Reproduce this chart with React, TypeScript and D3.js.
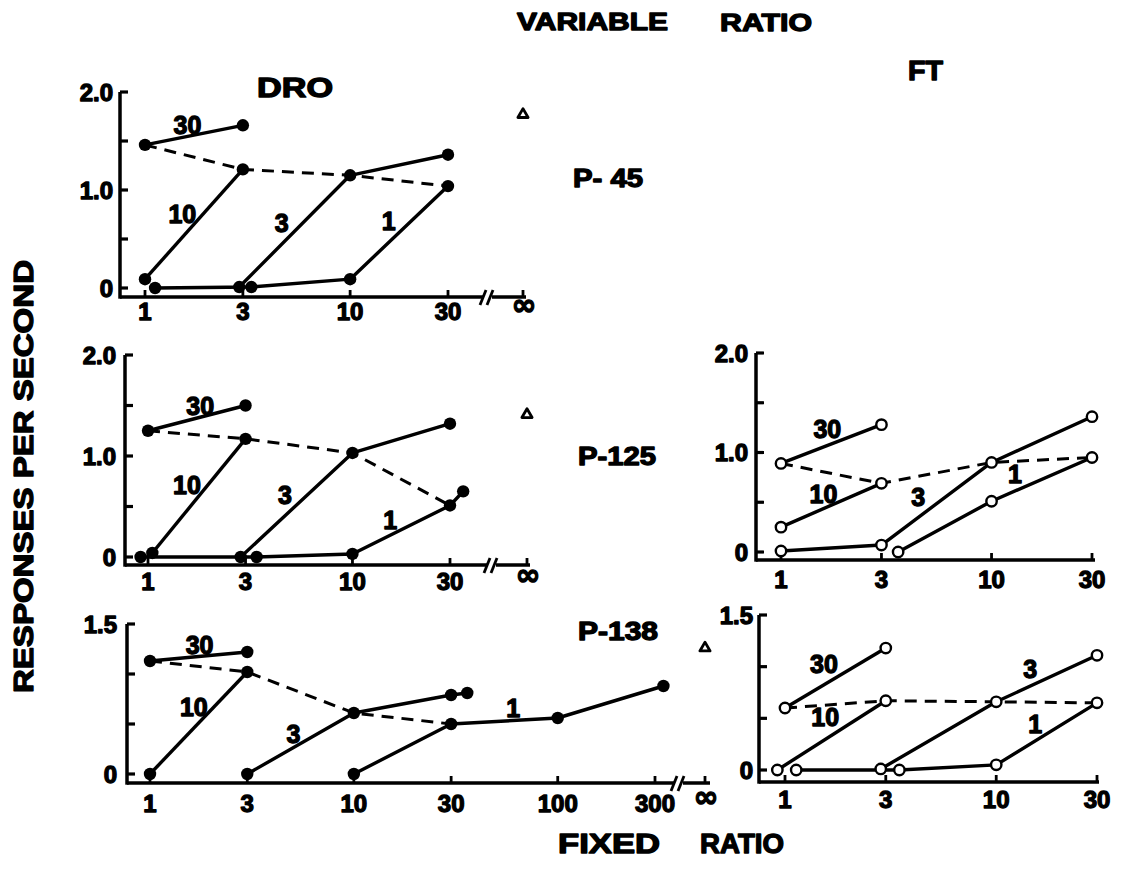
import * as d3 from 'd3';

type Pt = [number, number];
type Label = [string, number, number];

// fixed-ratio value, responses per second. x values slightly off 1 / 3 are points drawn beside the tick
// P-45, DRO
const p45Vr30: Pt[] = [[1, 1.46], [3, 1.66]];
const p45Vr10: Pt[] = [[1, 0.09], [3, 1.21]];
const p45Vr3: Pt[] = [[2.88, 0.01], [10, 1.15], [30, 1.36]];
const p45Vr1: Pt[] = [[1.12, 0.0], [3.3, 0.01], [10, 0.09], [30, 1.04]];
const p45Dashed: Pt[] = [[1, 1.46], [3, 1.21], [10, 1.15], [30, 1.04]];
const p45Extinction = 1.77;
const p45Labels: Label[] = [['30', 1.61, 1.66], ['10', 1.52, 0.76], ['3', 4.64, 0.66], ['1', 15.4, 0.68]];

// P-125, DRO
const p125Vr30: Pt[] = [[1, 1.25], [3, 1.5]];
const p125Vr10: Pt[] = [[1.05, 0.04], [3, 1.17]];
const p125Vr3: Pt[] = [[2.84, 0.0], [10, 1.03], [30, 1.32]];
const p125Vr1: Pt[] = [[0.92, 0.0], [3.4, 0.0], [10, 0.03], [30, 0.51], [34.8, 0.65]];
const p125Dashed: Pt[] = [[1, 1.25], [3, 1.17], [10, 1.03], [30, 0.51]];
const p125Extinction = 1.41;
const p125Labels: Label[] = [['30', 1.8, 1.5], ['10', 1.55, 0.71], ['3', 4.67, 0.61], ['1', 15.3, 0.37]];

// P-138, DRO
const p138Vr30: Pt[] = [[1, 1.13], [3, 1.22]];
const p138Vr10: Pt[] = [[1, 0.0], [3, 1.02]];
const p138Vr3: Pt[] = [[3, 0.0], [10, 0.61], [30, 0.79], [36, 0.81]];
const p138Vr1: Pt[] = [[10, 0.0], [30, 0.5], [100, 0.56], [330, 0.88]];
const p138Dashed: Pt[] = [[1, 1.13], [3, 1.02], [10, 0.61], [30, 0.5]];
const p138Extinction = 1.26;
const p138Labels: Label[] = [['30', 1.75, 1.29], ['10', 1.64, 0.67], ['3', 5.05, 0.4], ['1', 60.5, 0.66]];

// P-125, FT (open points)
const ft125Vr30: Pt[] = [[1, 0.89], [3, 1.28]];
const ft125Vr10: Pt[] = [[1, 0.25], [3, 0.69]];
const ft125Vr3: Pt[] = [[1, 0.01], [3, 0.07], [10, 0.9], [30, 1.36]];
const ft125Vr1: Pt[] = [[3.6, 0.0], [10, 0.51], [30, 0.95]];
const ft125Dashed: Pt[] = [[1, 0.89], [3, 0.69], [10, 0.9], [30, 0.95]];
const ft125Labels: Label[] = [['30', 1.66, 1.24], ['10', 1.59, 0.58], ['3', 4.49, 0.55], ['1', 12.9, 0.78]];

// P-138, FT
const ft138Vr30: Pt[] = [[1, 0.6], [3, 1.18]];
const ft138Vr10: Pt[] = [[0.92, 0.0], [3, 0.67]];
const ft138Vr3: Pt[] = [[2.84, 0.01], [10, 0.66], [30, 1.11]];
const ft138Vr1: Pt[] = [[1.13, 0.0], [3.48, 0.0], [10, 0.05], [30, 0.65]];
const ft138Dashed: Pt[] = [[1, 0.6], [3, 0.67], [10, 0.66], [30, 0.65]];
const ft138Labels: Label[] = [['30', 1.53, 1.03], ['10', 1.55, 0.51], ['3', 14.5, 0.98], ['1', 15.3, 0.45]];

const frTicks = [1, 3, 10, 30];
const frTicksLong = [1, 3, 10, 30, 100, 300];
const rateTicks2 = [0, 0.5, 1, 1.5, 2];
const rateLabels2 = [0, 1, 2];
const rateTicks15 = [0, 0.5, 1, 1.5];
const rateLabels15 = [0, 1.5];

const FONT = '"Liberation Sans", Arial, Helvetica, sans-serif';
const heavy = { fontFamily: FONT, fontWeight: 'bold' as const, stroke: '#000', strokeWidth: 1.3, strokeLinejoin: 'round' as const };

type PanelProps = {
  x0: number; x1: number; xMax: number;
  y0: number; y1: number; yMax: number;
  axisLeft: number; axisBottom: number; axisEnd: number;
  breakX?: number; infX?: number;
  xLabelY: number; yLabelRight: number;
  xTicks: number[]; yTicks: number[]; yLabels: number[];
  series: Pt[][]; dashed: Pt[]; labels: Label[];
  open: boolean; extinction?: number;
};

const Panel = (p: PanelProps) => {
  const x = d3.scaleLog().domain([1, p.xMax]).range([p.x0, p.x1]);
  const y = d3.scaleLinear().domain([0, p.yMax]).range([p.y0, p.y1]);
  const line = d3.line<Pt>().x((d) => x(d[0])).y((d) => y(d[1]));
  const fmt = (v: number) => (v === 0 ? '0' : v.toFixed(1));
  const b = p.breakX;

  return (
    <g>
      {/* axes */}
      <line x1={p.axisLeft} y1={y(p.yMax)} x2={p.axisLeft} y2={p.axisBottom + 1.7} stroke="#000" strokeWidth={3.5} />
      {b !== undefined ? (
        <>
          <line x1={p.axisLeft} y1={p.axisBottom} x2={b - 4} y2={p.axisBottom} stroke="#000" strokeWidth={3.5} />
          <line x1={b + 4} y1={p.axisBottom} x2={p.axisEnd} y2={p.axisBottom} stroke="#000" strokeWidth={3.5} />
          <line x1={b - 8} y1={p.axisBottom + 8} x2={b - 2} y2={p.axisBottom - 7} stroke="#000" strokeWidth={2.8} />
          <line x1={b - 1} y1={p.axisBottom + 8} x2={b + 5} y2={p.axisBottom - 7} stroke="#000" strokeWidth={2.8} />
        </>
      ) : (
        <line x1={p.axisLeft} y1={p.axisBottom} x2={p.axisEnd} y2={p.axisBottom} stroke="#000" strokeWidth={3.5} />
      )}
      {p.yTicks.map((t) => (
        <line key={'yt' + t} x1={p.axisLeft} x2={p.axisLeft + 8} y1={y(t)} y2={y(t)} stroke="#000" strokeWidth={3.2} />
      ))}
      {p.yLabels.map((t) => (
        <text key={'yl' + t} x={p.yLabelRight} y={y(t)} dy="0.36em" textAnchor="end" fontSize={24} {...heavy}>{fmt(t)}</text>
      ))}
      {p.xTicks.map((t) => (
        <line key={'xt' + t} x1={x(t)} x2={x(t)} y1={p.axisBottom} y2={p.axisBottom - 7} stroke="#000" strokeWidth={2.8} />
      ))}
      {p.xTicks.map((t) => (
        <text key={'xl' + t} x={x(t)} y={p.xLabelY} textAnchor="middle" fontSize={24} {...heavy}>{t}</text>
      ))}
      {p.infX !== undefined && (
        <>
          <line x1={p.infX} x2={p.infX} y1={p.axisBottom} y2={p.axisBottom - 7} stroke="#000" strokeWidth={2.8} />
          <text x={p.infX + 1} y={p.xLabelY - 5} textAnchor="middle" fontSize={30}
            {...heavy} fontFamily={'"DejaVu Sans", sans-serif'}>∞</text>
        </>
      )}

      {/* data */}
      <path d={line(p.dashed) ?? ''} fill="none" stroke="#000" strokeWidth={3} strokeDasharray="12 8" />
      {p.series.map((s, i) => (
        <path key={'s' + i} d={line(s) ?? ''} fill="none" stroke="#000" strokeWidth={3.4} strokeLinejoin="round" />
      ))}
      {p.series.flatMap((s, i) =>
        s.map((d, j) => (
          <circle key={'c' + i + '-' + j} cx={x(d[0])} cy={y(d[1])}
            r={p.open ? 5.2 : 6.2} fill={p.open ? '#fff' : '#000'} stroke="#000" strokeWidth={p.open ? 2.4 : 0} />
        ))
      )}
      {p.extinction !== undefined && p.infX !== undefined && (
        <path
          d={d3.symbol(d3.symbolTriangle, 45)() ?? ''}
          transform={`translate(${p.infX},${y(p.extinction)})`}
          fill="#fff" stroke="#000" strokeWidth={2.8} strokeLinejoin="round" />
      )}
      {p.labels.map(([t, fx, fy]) => (
        <text key={'lb' + t} x={x(fx)} y={y(fy)} dy="0.36em" textAnchor="middle" fontSize={25} {...heavy}>{t}</text>
      ))}
    </g>
  );
};

export default function App() {
  return (
    <svg width={1128} height={875} viewBox="0 0 1128 875"
      style={{ position: 'absolute', left: 0, top: 0, background: '#fff' }}>
      <rect width={1128} height={875} fill="#fff" />

      <text x={517} y={30} fontSize={24} textLength={151} lengthAdjust="spacingAndGlyphs" {...heavy}>VARIABLE</text>
      <text x={720} y={31} fontSize={24} textLength={92} lengthAdjust="spacingAndGlyphs" {...heavy}>RATIO</text>
      <text x={257} y={97} fontSize={27} textLength={76} lengthAdjust="spacingAndGlyphs" {...heavy}>DRO</text>
      <text x={908} y={80} fontSize={27} textLength={35} lengthAdjust="spacingAndGlyphs" {...heavy}>FT</text>
      <text x={573} y={187} fontSize={25} textLength={70} lengthAdjust="spacingAndGlyphs" {...heavy}>P- 45</text>
      <text x={578} y={465} fontSize={25} textLength={78} lengthAdjust="spacingAndGlyphs" {...heavy}>P-125</text>
      <text x={578} y={640} fontSize={25} textLength={80} lengthAdjust="spacingAndGlyphs" {...heavy}>P-138</text>
      <text x={558} y={853} fontSize={27} textLength={102} lengthAdjust="spacingAndGlyphs" {...heavy}>FIXED</text>
      <text x={700} y={853} fontSize={27} textLength={84} lengthAdjust="spacingAndGlyphs" {...heavy}>RATIO</text>
      <text transform="translate(33,693) rotate(-90)" x={0} y={0} fontSize={27} textLength={433}
        lengthAdjust="spacingAndGlyphs" {...heavy}>RESPONSES  PER  SECOND</text>

      <Panel x0={145} x1={448} xMax={30} y0={288} y1={92} yMax={2}
        axisLeft={120} axisBottom={297} axisEnd={526} breakX={488} infX={523}
        xLabelY={320} yLabelRight={113} xTicks={frTicks} yTicks={rateTicks2} yLabels={rateLabels2}
        series={[p45Vr30, p45Vr10, p45Vr3, p45Vr1]} dashed={p45Dashed} labels={p45Labels}
        open={false} extinction={p45Extinction} />
      <Panel x0={148} x1={450} xMax={30} y0={557} y1={355} yMax={2}
        axisLeft={125} axisBottom={565} axisEnd={530} breakX={492} infX={527}
        xLabelY={590} yLabelRight={116} xTicks={frTicks} yTicks={rateTicks2} yLabels={rateLabels2}
        series={[p125Vr30, p125Vr10, p125Vr3, p125Vr1]} dashed={p125Dashed} labels={p125Labels}
        open={false} extinction={p125Extinction} />
      <Panel x0={150} x1={655} xMax={300} y0={774} y1={624} yMax={1.5}
        axisLeft={127} axisBottom={783} axisEnd={710} breakX={679} infX={705}
        xLabelY={812} yLabelRight={117} xTicks={frTicksLong} yTicks={rateTicks15} yLabels={rateLabels15}
        series={[p138Vr30, p138Vr10, p138Vr3, p138Vr1]} dashed={p138Dashed} labels={p138Labels}
        open={false} extinction={p138Extinction} />
      <Panel x0={781} x1={1092} xMax={30} y0={552} y1={353} yMax={2}
        axisLeft={756} axisBottom={560} axisEnd={1095}
        xLabelY={588} yLabelRight={748} xTicks={frTicks} yTicks={rateTicks2} yLabels={rateLabels2}
        series={[ft125Vr30, ft125Vr10, ft125Vr3, ft125Vr1]} dashed={ft125Dashed} labels={ft125Labels}
        open={true} />
      <Panel x0={785} x1={1097} xMax={30} y0={770} y1={615} yMax={1.5}
        axisLeft={759} axisBottom={782} axisEnd={1099}
        xLabelY={808} yLabelRight={753} xTicks={frTicks} yTicks={rateTicks15} yLabels={rateLabels15}
        series={[ft138Vr30, ft138Vr10, ft138Vr3, ft138Vr1]} dashed={ft138Dashed} labels={ft138Labels}
        open={true} />
    </svg>
  );
}
